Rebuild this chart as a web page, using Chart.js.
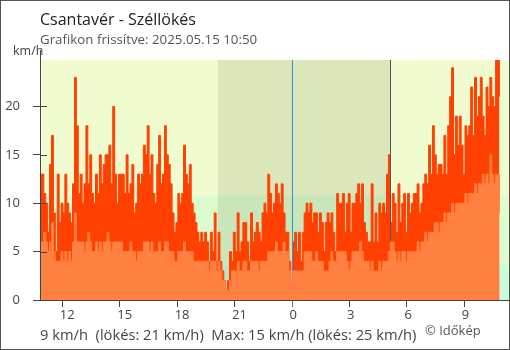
<!DOCTYPE html>
<html lang="hu">
<head>
<meta charset="utf-8">
<title>Csantavér - Széllökés</title>
<script src="https://cdn.jsdelivr.net/npm/chart.js@4/dist/chart.umd.min.js"></script>
<style>
  html, body { margin: 0; padding: 0; background: #fff; }
  #box { position: relative; width: 510px; height: 350px; font-family: "Open Sans", sans-serif; }
  #box canvas { position: absolute; left: 0; top: 0; }
  #frame { position: absolute; left: 0; top: 0; width: 510px; height: 350px; box-sizing: border-box; border: 1px solid #555; pointer-events: none; }
  .txt { position: absolute; line-height: 1; white-space: pre; }
  #cim { left: 40px; top: 11px; font-size: 16px; color: #222; }
  #frissites { left: 40px; top: 33px; font-size: 13.3px; color: #555; }
  #egyseg { left: 13px; top: 45px; font-size: 12.5px; color: #444; }
  #aktualis { left: 40px; top: 327px; font-size: 14.7px; color: #444; }
  #forras { left: 425px; top: 324px; font-size: 13px; color: #555; }
</style>
</head>
<body>
<div id="box">
  <canvas id="grafikon" width="510" height="350"></canvas>
  <div class="txt" id="cim">Csantavér - Széllökés</div>
  <div class="txt" id="frissites">Grafikon frissítve: 2025.05.15 10:50</div>
  <div class="txt" id="egyseg">km/h</div>
  <div class="txt" id="aktualis"></div>
  <div class="txt" id="forras">© Időkép</div>
  <div id="frame"></div>
</div>
<script>
// idő órában, éjfélhez viszonyítva (10:50 előző nap = -13.167)
const kezdet = -13 - 10 / 60;
const lepes = 0.1; // 6 perc
const xMin = kezdet;
const xMax = 11 + 20 / 60;
const xTicks = [-12, -9, -6, -3, 0, 3, 6, 9];
const yTicks = [0, 5, 10, 15, 20];
const yMax = 24.8;

// napnyugta / napkelte (20:07, 05:07)
const naplemente = -(3 + 53 / 60);
const napkelte = 5 + 7 / 60;

// sávok határai km/h-ban (1 m/s, 3 m/s)
const savok = [3.6, 10.8];

// széllökés km/h
const lokes = [
  13, 13, 11, 10, 7, 14, 17, 9, 5, 13,
  8, 10, 9, 13, 10, 9, 8, 12, 23, 18,
  11, 13, 10, 12, 18, 12, 15, 11, 10, 13,
  11, 15, 12, 14, 15, 15, 16, 12, 20, 13,
  10, 13,
  13, 13, 11, 15, 11, 12, 14, 9,
  10, 13, 12, 13, 16, 15, 18, 13, 15, 11,
  10, 14, 17, 12, 13, 18, 15, 14, 12, 9,
  7, 8, 11, 10, 11, 16, 13, 12, 14, 10,
  9, 8, 7, 6,
  7, 6, 7, 6, 4, 7,
  5, 9, 4, 7, 4, 3, 2, 1, 2, 5,
  4, 7, 5, 9, 5, 6, 8, 8, 6, 4,
  9, 6, 7, 8, 7, 6, 9, 10, 9, 13,
  11, 9, 10, 12, 11, 10,
  12, 9, 7, 7,
  4, 2, 6, 7, 5, 7, 4, 7, 9, 10,
  9, 10, 8, 9, 9, 7, 9, 8, 5, 8,
  9, 8, 9, 7, 5, 11, 10, 10, 11, 7,
  10, 11, 7, 10, 10, 11, 12, 10,
  12, 8,
  7, 6, 6, 12, 6, 9, 6, 10, 9, 10,
  9, 13, 15, 8, 11, 10, 7, 12, 8, 10,
  11, 7, 11, 9, 10, 11, 11, 12, 9, 10,
  12, 13, 12, 16, 13, 18, 15, 13, 14, 14,
  13, 17, 13, 18, 21, 24, 15, 19, 16, 19,
  16, 13, 18, 17, 18, 22, 17, 23, 19, 21,
  23, 19, 17, 22, 20, 23, 21, 20, 25, 25, 21
];

// átlagszél km/h
const szel = [
  6, 6, 7, 6, 5, 6, 8, 5, 4, 4,
  4, 5, 4, 5, 4, 5, 4, 6, 9, 6,
  6, 6, 6, 5, 6, 7, 6, 5, 5, 6,
  5, 6, 5, 6, 6, 7, 6, 5, 6, 6,
  6, 6,
  6, 5, 5, 5, 5, 6, 5, 5,
  4, 5, 5, 5, 6, 6, 6, 5, 6, 5,
  5, 5, 6, 5, 5, 6, 6, 5, 5, 5,
  4, 4, 5, 5, 5, 6, 5, 5, 5, 5,
  4, 4, 4, 4,
  4, 4, 4, 4, 3, 4,
  4, 4, 3, 4, 3, 2, 2, 1, 1, 2,
  3, 3, 3, 4, 3, 3, 4, 4, 3, 3,
  4, 4, 4, 4, 3, 4, 4, 4, 4, 5,
  5, 5, 5, 6, 5, 5,
  5, 6, 5, 5,
  3, 2, 3, 3, 3, 3, 3, 3, 5, 5,
  5, 5, 4, 4, 5, 4, 4, 4, 3, 3,
  3, 4, 5, 4, 4, 5, 5, 5, 5, 5,
  4, 3, 4, 5, 5, 5, 5, 6,
  5, 4,
  4, 4, 3, 4, 3, 3, 3, 4, 3, 4,
  4, 4, 5, 6, 6, 5, 4, 5, 4, 5,
  5, 4, 5, 5, 5, 5, 5, 6, 5, 6,
  6, 7, 6, 7, 7, 7, 8, 8, 7, 8,
  8, 9, 8, 9, 9, 10, 9, 10, 10, 10,
  10, 10, 11, 10, 11, 11, 11, 12, 11, 12,
  12, 13, 12, 13, 12, 15, 13, 12, 13, 13, 9
];

const lokesSzin = "#ff4000";
const szelSzin = "#ff8040";
const tengelySzin = "#444";
const ejfelSzin = "#2a8fd8";

const pontok = (sor) => sor.map((v, i) => ({ x: kezdet + i * lepes, y: v }));

document.getElementById("aktualis").textContent =
  `${szel[szel.length - 1]} km/h  (lökés: ${lokes[lokes.length - 1]} km/h)  ` +
  `Max: ${Math.max(...szel)} km/h (lökés: ${Math.max(...lokes)} km/h)`;

// háttér sávok és éjszaka
const hatter = {
  id: "hatter",
  beforeDraw(chart) {
    const { ctx, chartArea: a, scales: { x, y } } = chart;
    ctx.save();
    ctx.fillStyle = "#f0fcd0";
    ctx.fillRect(a.left, a.top, a.right - a.left, a.bottom - a.top);
    const y1 = y.getPixelForValue(savok[0]);
    const y2 = y.getPixelForValue(savok[1]);
    ctx.fillStyle = "#dcfcd0";
    ctx.fillRect(a.left, y2, a.right - a.left, y1 - y2);
    ctx.fillStyle = "#c8fcdc";
    ctx.fillRect(a.left, y1, a.right - a.left, a.bottom - y1);
    const n1 = x.getPixelForValue(naplemente);
    const n2 = x.getPixelForValue(napkelte);
    ctx.fillStyle = "rgba(40, 40, 0, 0.1)";
    ctx.fillRect(n1, a.top, n2 - n1, a.bottom - a.top);
    ctx.restore();
  },
  // éjfél és napkelte vonala a lökés és a szél közé
  afterDatasetDraw(chart, args) {
    if (args.index !== 1) return;
    const { ctx, chartArea: a, scales: { x } } = chart;
    ctx.save();
    ctx.lineWidth = 1;
    const e = Math.round(x.getPixelForValue(0)) + 0.5;
    ctx.strokeStyle = ejfelSzin;
    ctx.beginPath(); ctx.moveTo(e, a.top); ctx.lineTo(e, a.bottom); ctx.stroke();
    const k = Math.round(x.getPixelForValue(napkelte)) + 0.5;
    ctx.strokeStyle = "#555";
    ctx.beginPath(); ctx.moveTo(k, a.top); ctx.lineTo(k, a.bottom); ctx.stroke();
    ctx.restore();
  },
  afterDatasetsDraw(chart) {
    const { ctx, chartArea: a, scales: { y } } = chart;
    ctx.save();
    ctx.strokeStyle = tengelySzin;
    ctx.lineWidth = 1;
    ctx.beginPath();
    ctx.moveTo(a.left + 0.5, 50);
    ctx.lineTo(a.left + 0.5, a.bottom);
    for (const t of yTicks) {
      const p = Math.round(y.getPixelForValue(t)) + 0.5;
      ctx.moveTo(a.left, p);
      ctx.lineTo(a.left + 7, p);
    }
    ctx.stroke();
    ctx.restore();
  }
};

const betu = { family: "'Open Sans', sans-serif", size: 13 };

new Chart(document.getElementById("grafikon"), {
  type: "line",
  data: {
    datasets: [
      {
        label: "Szél",
        data: pontok(szel),
        borderColor: szelSzin,
        backgroundColor: szelSzin,
        borderWidth: 1,
        fill: "origin",
        stepped: true,
        pointRadius: 0
      },
      {
        label: "Széllökés",
        data: pontok(lokes),
        borderColor: lokesSzin,
        backgroundColor: lokesSzin,
        borderWidth: 1,
        fill: "origin",
        stepped: true,
        pointRadius: 0
      }
    ]
  },
  options: {
    responsive: false,
    animation: false,
    devicePixelRatio: 1,
    layout: { padding: { left: 0, top: 60, right: 1, bottom: 0 } },
    plugins: { legend: { display: false }, tooltip: { enabled: false } },
    scales: {
      x: {
        type: "linear",
        min: xMin,
        max: xMax,
        afterBuildTicks: (s) => { s.ticks = xTicks.map((v) => ({ value: v })); },
        afterFit: (s) => { s.height = 50; },
        grid: {
          drawOnChartArea: false,
          tickLength: 7,
          color: (c) => (c.tick && c.tick.value === 0 ? ejfelSzin : tengelySzin)
        },
        border: { color: tengelySzin },
        ticks: {
          callback: (v) => String((v + 24) % 24),
          align: "start",
          labelOffset: -2.5,
          padding: 0,
          maxRotation: 0,
          autoSkip: false,
          color: tengelySzin,
          font: betu
        }
      },
      y: {
        min: 0,
        max: yMax,
        afterBuildTicks: (s) => { s.ticks = yTicks.map((v) => ({ value: v })); },
        afterFit: (s) => { s.width = 40; },
        grid: { drawOnChartArea: false, tickLength: 7, color: tengelySzin },
        border: { color: tengelySzin },
        ticks: { padding: 13, color: tengelySzin, font: betu }
      }
    }
  },
  plugins: [hatter]
});
</script>
</body>
</html>
